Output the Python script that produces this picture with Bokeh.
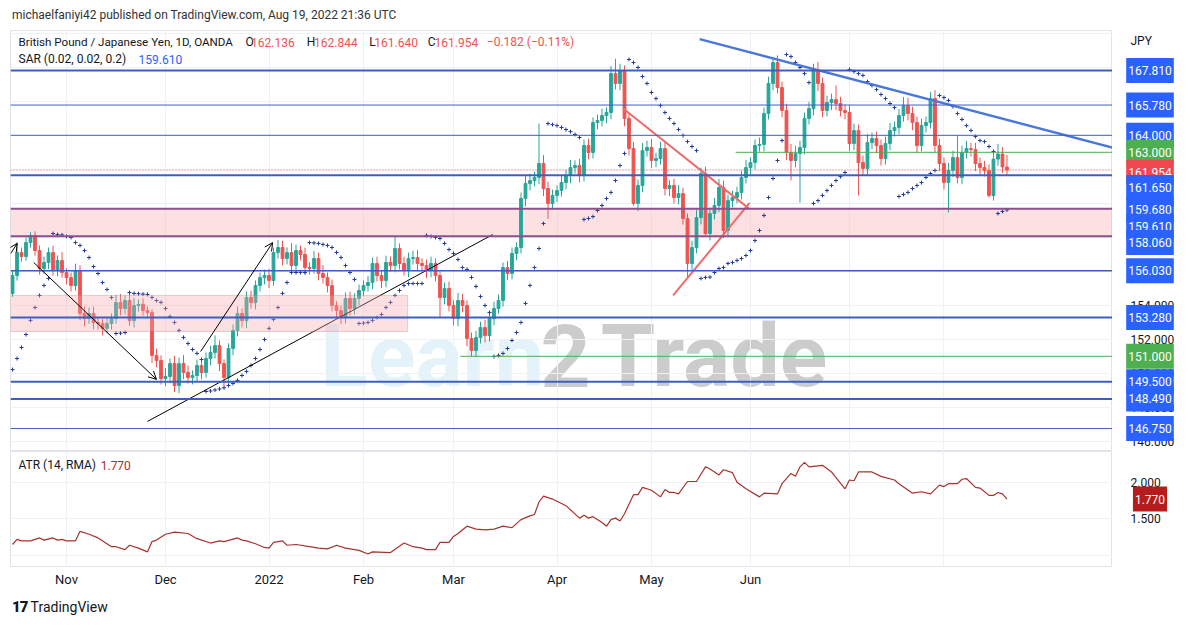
from bokeh.plotting import figure
from bokeh.models import (Range1d, FixedTicker, Label, ColumnDataSource, Span,
                          BoxAnnotation, Div, Arrow, OpenHead)
from bokeh.layouts import column, row
from bokeh.embed import file_html
from bokeh.resources import INLINE
from bokeh.core.properties import value

# ---------------- data (GBP/JPY daily, OANDA; bar 0 = 14 Oct 2021, bar 221 = 19 Aug 2022) ----
opens = [
    154.69, 155.75, 157.10, 156.87, 157.69, 158.10, 157.22, 156.16, 156.52, 157.10,
    156.05, 156.63, 155.93, 155.63, 155.16, 156.05, 153.52, 153.22, 153.52, 152.99,
    152.93, 152.64, 152.93, 153.22, 154.16, 153.81, 154.28, 153.10, 153.99, 154.05,
    153.69, 153.57, 151.05, 150.75, 149.69, 149.81, 150.57, 149.28, 150.57, 150.05,
    149.75, 149.87, 150.46, 150.05, 150.87, 151.22, 151.63, 150.57, 149.75, 151.46,
    152.52, 153.52, 153.10, 154.46, 154.16, 155.16, 155.63, 155.75, 155.46, 157.10,
    157.40, 156.75, 157.10, 156.34, 157.22, 156.99, 156.22, 156.16, 156.75, 155.87,
    155.63, 155.16, 153.99, 153.69, 153.28, 154.40, 153.81, 154.40, 154.87, 155.16,
    155.34, 156.46, 155.75, 155.46, 156.52, 156.34, 157.34, 156.46, 156.05, 156.75,
    156.81, 156.46, 156.34, 156.05, 156.46, 155.75, 154.46, 154.99, 153.99, 153.22,
    154.28, 153.99, 152.05, 151.34, 152.10, 152.69, 152.22, 153.22, 153.81, 154.28,
    156.22, 155.87, 157.05, 157.40, 160.28, 161.16, 161.34, 161.52, 162.34, 160.87,
    159.99, 160.46, 160.75, 161.22, 161.63, 162.10, 162.22, 161.63, 163.40, 162.99,
    164.75, 164.87, 165.16, 165.34, 167.63, 167.05, 167.81, 164.99, 163.22, 159.99,
    161.05, 163.10, 163.28, 162.52, 162.63, 163.22, 160.87, 161.05, 160.34, 160.57,
    159.10, 156.46, 157.40, 159.16, 161.75, 158.22, 159.40, 159.87, 160.93, 158.40,
    160.16, 160.34, 160.63, 161.52, 162.10, 162.40, 163.40, 163.46, 165.28, 167.05,
    168.28, 166.81, 165.46, 162.99, 162.52, 162.93, 163.28, 164.99, 165.57, 167.81,
    167.05, 165.46, 165.93, 166.10, 165.87, 165.46, 165.34, 163.52, 164.28, 162.40,
    162.05, 163.57, 163.81, 163.40, 162.63, 163.52, 164.28, 164.46, 165.16, 165.75,
    165.28, 164.75, 163.40, 164.57, 164.75, 166.16, 163.40, 162.34, 161.22, 161.93,
    162.69, 161.52, 162.99, 163.22, 163.16, 162.34, 162.10, 161.93, 160.46, 162.60,
    162.90, 162.136,
]
closes = [
    155.75, 157.10, 156.87, 157.69, 158.10, 157.22, 156.16, 156.52, 157.10, 156.05,
    156.63, 155.93, 155.63, 155.16, 156.05, 153.52, 153.22, 153.52, 152.99, 152.93,
    152.64, 152.93, 153.22, 154.16, 153.81, 154.28, 153.10, 153.99, 154.05, 153.69,
    153.57, 151.05, 150.75, 149.69, 149.81, 150.57, 149.28, 150.57, 150.05, 149.75,
    149.87, 150.46, 150.05, 150.87, 151.22, 151.63, 150.57, 149.75, 151.46, 152.52,
    153.52, 153.10, 154.46, 154.16, 155.16, 155.63, 155.75, 155.46, 157.10, 157.40,
    156.75, 157.10, 156.34, 157.22, 156.99, 156.22, 156.16, 156.75, 155.87, 155.63,
    155.16, 153.99, 153.69, 153.28, 154.40, 153.81, 154.40, 154.87, 155.16, 155.34,
    156.46, 155.75, 155.46, 156.52, 156.34, 157.34, 156.46, 156.05, 156.75, 156.81,
    156.46, 156.34, 156.05, 156.46, 155.75, 154.46, 154.99, 153.99, 153.22, 154.28,
    153.99, 152.05, 151.34, 152.10, 152.69, 152.22, 153.22, 153.81, 154.28, 156.22,
    155.87, 157.05, 157.40, 160.28, 161.16, 161.34, 161.52, 162.34, 160.87, 159.99,
    160.46, 160.75, 161.22, 161.63, 162.10, 162.22, 161.63, 163.40, 162.99, 164.75,
    164.87, 165.16, 165.34, 167.63, 167.05, 167.81, 164.99, 163.22, 159.99, 161.05,
    163.10, 163.28, 162.52, 162.63, 163.22, 160.87, 161.05, 160.34, 160.57, 159.10,
    156.46, 157.40, 159.16, 161.75, 158.22, 159.40, 159.87, 160.93, 158.40, 160.16,
    160.34, 160.63, 161.52, 162.10, 162.40, 163.40, 163.46, 165.28, 167.05, 168.28,
    166.81, 165.46, 162.99, 162.52, 162.93, 163.28, 164.99, 165.57, 167.81, 167.05,
    165.46, 165.93, 166.10, 165.87, 165.46, 165.34, 163.52, 164.28, 162.40, 162.05,
    163.57, 163.81, 163.40, 162.63, 163.52, 164.28, 164.46, 165.16, 165.75, 165.28,
    164.75, 163.40, 164.57, 164.75, 166.16, 163.40, 162.34, 161.22, 161.93, 162.69,
    161.52, 162.99, 163.22, 163.16, 162.34, 162.10, 161.93, 160.46, 162.60, 162.90,
    162.136, 161.954,
]
upper_wick = [
    0.30, 0.60, 0.30, 0.30, 0.20, 0.25, 0.30, 0.35, 0.30, 0.40,
    0.30, 0.50, 0.25, 0.30, 0.40, 0.30, 0.40, 0.35, 0.40, 0.30,
    0.30, 0.35, 0.30, 0.45, 0.50, 0.30, 0.40, 0.45, 0.30, 0.35,
    0.25, 0.20, 0.40, 0.30, 0.50, 0.30, 0.45, 0.35, 0.50, 0.40,
    0.30, 0.35, 0.30, 0.35, 0.40, 0.60, 0.30, 0.25, 0.30, 0.35,
    0.40, 0.30, 0.35, 0.40, 0.30, 0.30, 0.35, 0.40, 0.30, 0.45,
    0.40, 0.30, 0.55, 0.35, 0.30, 0.40, 0.30, 0.45, 0.35, 0.50,
    0.30, 0.35, 0.25, 0.30, 0.35, 0.40, 0.30, 0.35, 0.30, 0.40,
    0.35, 0.40, 0.30, 0.40, 0.35, 0.70, 0.30, 0.40, 0.35, 0.40,
    0.45, 0.30, 0.35, 0.40, 0.30, 0.25, 0.35, 0.40, 0.30, 0.45,
    0.40, 0.30, 0.35, 0.40, 0.35, 0.45, 0.30, 0.40, 0.35, 0.30,
    0.40, 0.35, 0.30, 0.35, 0.45, 0.40, 0.35, 2.35, 0.50, 0.40,
    0.35, 0.30, 0.40, 0.35, 0.45, 0.30, 0.40, 0.35, 0.40, 0.30,
    0.35, 0.40, 0.30, 0.45, 0.87, 0.40, 0.30, 0.35, 0.40, 0.35,
    0.45, 0.40, 0.50, 0.35, 0.40, 0.45, 0.30, 0.40, 0.50, 0.35,
    0.30, 0.40, 0.45, 0.35, 0.40, 0.35, 0.45, 0.50, 0.40, 0.35,
    0.40, 0.35, 0.40, 0.45, 0.30, 0.35, 0.40, 0.35, 0.40, 0.30,
    0.42, 0.35, 0.40, 0.50, 0.45, 0.40, 0.35, 0.40, 0.40, 0.50,
    0.35, 0.40, 0.35, 0.83, 0.40, 0.35, 0.45, 0.40, 0.35, 0.40,
    0.50, 0.35, 0.40, 0.35, 0.40, 0.45, 0.35, 0.40, 0.50, 0.45,
    0.40, 0.35, 0.40, 0.35, 0.40, 0.50, 0.40, 0.35, 0.45, 0.40,
    1.30, 0.40, 0.45, 0.35, 0.40, 0.35, 0.40, 0.35, 0.40, 0.60,
    0.40, 0.708,
]
lower_wick = [
    0.20, 0.30, 0.30, 0.25, 0.30, 0.30, 0.35, 0.30, 0.40, 0.30,
    0.35, 0.30, 0.40, 0.35, 0.30, 0.40, 0.45, 0.30, 0.40, 0.35,
    0.40, 0.30, 0.35, 0.30, 0.40, 0.35, 0.30, 0.40, 0.35, 0.30,
    0.35, 0.45, 0.40, 0.35, 0.45, 0.40, 0.38, 0.45, 0.40, 0.35,
    0.40, 0.35, 0.40, 0.30, 0.40, 0.35, 0.45, 0.50, 0.35, 0.40,
    0.35, 0.40, 0.45, 0.35, 0.40, 0.35, 0.40, 0.45, 0.30, 0.35,
    0.40, 0.35, 0.40, 0.45, 0.35, 0.40, 0.35, 0.30, 0.40, 0.35,
    0.40, 0.35, 0.45, 0.40, 0.35, 0.40, 0.35, 0.40, 0.30, 0.35,
    0.40, 0.35, 0.45, 0.40, 0.35, 0.40, 0.35, 0.30, 0.40, 0.35,
    0.40, 0.35, 0.45, 0.40, 0.35, 1.18, 0.40, 0.35, 0.40, 0.45,
    0.40, 0.45, 0.34, 0.40, 0.35, 0.40, 0.35, 0.40, 0.30, 0.35,
    0.40, 0.35, 0.40, 0.35, 0.45, 0.40, 0.35, 0.40, 0.45, 0.90,
    0.35, 0.40, 0.35, 0.40, 0.45, 0.35, 0.40, 0.35, 0.40, 0.35,
    0.40, 0.35, 0.45, 0.40, 0.35, 0.40, 0.45, 0.40, 0.12, 0.45,
    0.40, 0.35, 0.45, 0.40, 0.35, 0.40, 0.45, 0.35, 0.40, 0.35,
    0.86, 0.40, 0.35, 0.40, 0.10, 0.40, 0.35, 0.40, 0.45, 0.35,
    0.40, 0.35, 0.40, 0.35, 0.45, 0.40, 0.35, 0.40, 0.35, 0.40,
    0.35, 0.40, 0.45, 1.18, 0.40, 2.90, 0.40, 0.35, 0.40, 0.45,
    0.40, 0.35, 0.45, 0.40, 0.35, 0.40, 0.45, 0.40, 1.94, 0.40,
    0.35, 0.40, 0.45, 0.40, 0.35, 0.40, 0.35, 0.40, 0.35, 0.40,
    0.45, 0.40, 0.35, 0.40, 0.35, 0.40, 0.45, 0.40, 1.76, 0.40,
    0.35, 0.40, 0.35, 0.40, 0.45, 0.40, 0.35, 0.12, 0.30, 0.40,
    0.35, 0.314,
]
sar = [
    150.22, 150.87, 151.52, 152.28, 153.11, 153.87, 154.58, 155.17, 155.58, 158.22,
    158.16, 158.14, 158.05, 157.99, 157.69, 157.52, 157.22, 156.81, 156.28, 155.87,
    155.34, 154.93, 154.46, 152.34, 152.36, 152.40, 154.75, 154.70, 154.68, 154.66,
    154.64, 154.46, 154.28, 154.17, 153.81, 153.34, 152.99, 152.52, 152.11, 151.75,
    151.40, 151.17, 150.81, 148.93, 148.96, 149.02, 149.08, 149.15, 149.28, 149.40,
    149.58, 149.87, 150.11, 150.46, 150.87, 151.40, 151.99, 152.64, 153.17, 153.87,
    154.70, 155.34, 155.93, 155.93, 155.93, 155.93, 157.69, 157.67, 157.64, 157.58,
    157.52, 157.40, 157.11, 156.81, 156.34, 155.93, 155.52, 152.93, 152.95, 152.99,
    153.11, 153.28, 153.46, 153.87, 154.17, 154.58, 154.87, 155.17, 155.28, 155.28,
    155.28, 155.28, 158.11, 158.05, 157.99, 157.93, 157.64, 157.28, 157.05, 156.69,
    156.22, 156.11, 155.64, 155.11, 154.52, 153.99, 153.58, 150.99, 151.05, 151.17,
    151.46, 151.93, 152.40, 152.99, 154.11, 155.17, 156.22, 157.34, 158.81, 164.69,
    164.63, 164.57, 164.46, 164.34, 164.22, 164.05, 163.87, 159.05, 159.11, 159.22,
    159.58, 159.87, 160.28, 160.64, 161.34, 162.22, 162.93, 168.46, 168.28, 167.99,
    167.46, 167.05, 166.52, 166.16, 165.75, 165.34, 164.99, 164.69, 164.34, 163.99,
    163.63, 163.34, 163.10, 155.58, 155.64, 155.66, 155.93, 156.16, 156.22, 156.46,
    156.52, 156.64, 156.75, 156.93, 157.22, 157.81, 158.40, 159.28, 160.34, 161.46,
    162.52, 163.69, 168.75, 168.63, 168.28, 167.99, 167.63, 167.10, 159.99, 160.16,
    160.46, 160.75, 161.05, 161.34, 161.57, 161.81, 167.87, 167.75, 167.63, 167.52,
    167.16, 166.93, 166.69, 166.40, 166.16, 165.87, 165.63, 160.40, 160.52, 160.64,
    160.87, 161.05, 161.22, 161.52, 161.75, 161.93, 166.34, 166.22, 166.05, 165.69,
    165.28, 164.93, 164.57, 164.28, 163.93, 163.69, 163.63, 163.34, 163.05, 159.40,
    159.52, 159.61,
]
atr_bar = [0, 1, 2, 4, 6, 7, 9, 10, 11, 12, 14, 15, 17, 19, 22, 23, 25, 26, 28, 30,
           31, 32, 34, 36, 39, 41, 44, 46, 47, 50, 51, 52, 54, 56, 57, 58, 60, 61, 63, 66,
           68, 70, 72, 74, 77, 79, 80, 84, 87, 89, 91, 92, 94, 95, 97, 98, 99, 101, 103, 105,
           107, 109, 111, 113, 115, 116, 117, 118, 120, 123, 126, 127, 128, 129, 131, 132, 133, 134, 135, 136,
           138, 139, 140, 142, 144, 145, 146, 147, 148, 150, 152, 154, 155, 157, 158, 160, 161, 163, 166, 167,
           170, 171, 173, 174, 175, 176, 177, 180, 182, 185, 186, 187, 188, 191, 193, 196, 197, 200, 202, 204,
           206, 207, 208, 210, 211, 212, 214, 215, 217, 218, 219, 220, 221]
atr_val = [1.15, 1.22, 1.20, 1.20, 1.24, 1.21, 1.24, 1.21, 1.22, 1.20, 1.20, 1.33, 1.29, 1.24, 1.12, 1.12, 1.08, 1.14, 1.10, 1.05,
           1.19, 1.21, 1.29, 1.32, 1.30, 1.23, 1.17, 1.20, 1.19, 1.24, 1.21, 1.20, 1.16, 1.11, 1.10, 1.18, 1.20, 1.14, 1.15, 1.12,
           1.10, 1.09, 1.14, 1.10, 1.07, 1.02, 1.05, 1.04, 1.17, 1.12, 1.10, 1.08, 1.08, 1.18, 1.18, 1.26, 1.30, 1.40, 1.36, 1.35,
           1.36, 1.40, 1.38, 1.49, 1.54, 1.56, 1.73, 1.81, 1.77, 1.68, 1.51, 1.55, 1.51, 1.53, 1.45, 1.40, 1.49, 1.51, 1.47, 1.57,
           1.83, 1.83, 1.93, 1.89, 1.80, 1.90, 1.86, 1.86, 1.84, 2.01, 2.01, 2.21, 2.18, 2.10, 2.17, 2.13, 2.00, 1.91, 1.80, 1.85,
           1.84, 1.98, 2.12, 2.08, 2.21, 2.27, 2.21, 2.23, 2.14, 1.91, 2.03, 2.02, 2.14, 2.14, 2.08, 2.03, 1.98, 1.85, 1.87, 1.84,
           1.96, 1.94, 1.98, 1.98, 2.04, 2.05, 1.93, 1.92, 1.82, 1.82, 1.86, 1.84, 1.77]

month_bar = [12, 34, 57, 78, 98, 121, 142, 164, 186, 207]
month_names = ["Nov", "Dec", "2022", "Feb", "Mar", "Apr", "May", "Jun", "", ""]
price_ticks = [146, 148, 150, 152, 154, 160]
atr_ticks = [1.5, 2.0]

blue_levels = [167.81, 165.78, 164.00, 161.65, 156.03, 153.28, 149.50, 148.49, 146.75]
green_levels = [163.00, 151.00]
green_level_start = [160.7, 99.5]
zone_top, zone_bottom = 159.68, 158.06
box_top, box_bottom, box_end = 154.58, 152.46, 87.8
last_price, last_sar, last_atr = 161.954, 159.610, 1.770

arrow_x0 = [-0.4, 4.7, 41.8]
arrow_y0 = [157.05, 156.52, 151.28]
arrow_x1 = [1.05, 32.0, 57.8]
arrow_y1 = [157.64, 149.64, 157.69]
black_line = ([30.0, 106.7], [147.17, 158.16])
red_lines = [([135.7, 163.6], [165.58, 159.70]), ([146.8, 163.8], [154.58, 160.02])]
blue_line = ([152.7, 246.2], [169.66, 163.15])

# ---------------- styling ----------------
FONT = "Roboto"
UP, DOWN = "#26a69a", "#ef5350"
LEVEL_BLUE = "#3c5fc4"
TAG_BLUE, TAG_GREEN, TAG_RED = "#2962ff", "#4caf50", "#f0474f"
GRID = "#eef1f6"
TEXT = "#131722"

highs = [max(o, c) + u for o, c, u in zip(opens, closes, upper_wick)]
lows = [min(o, c) - d for o, c, d in zip(opens, closes, lower_wick)]
bars = list(range(len(closes)))
src = ColumnDataSource(dict(
    x=bars, high=highs, low=lows,
    top=[max(o, c) for o, c in zip(opens, closes)],
    bottom=[min(o, c) for o, c in zip(opens, closes)],
    color=[UP if c >= o else DOWN for o, c in zip(opens, closes)],
))

p = figure(frame_width=1102, frame_height=421, x_range=Range1d(-0.45, 244.45),
           y_range=Range1d(145.40, 170.165), output_backend="svg", toolbar_location=None,
           min_border_left=10, min_border_right=0, min_border_top=0, min_border_bottom=0,
           x_axis_location=None, y_axis_location=None, outline_line_color="#e0e3eb")
p.ygrid.ticker = FixedTicker(ticks=list(range(146, 171, 2)))
p.xgrid.ticker = FixedTicker(ticks=month_bar)
p.grid.grid_line_color = GRID

# watermark
wm = p.text(x=[68.4, 117.3, 130.7], y=[151.05, 151.05, 151.05], text=["Learn", "2", "Trade"],
            text_font=value(FONT), text_font_size="88px", text_font_style="bold",
            text_color=["#4aa8e0", "#555555", "#555555"], text_alpha=[0.15, 0.3, 0.3],
            text_baseline="alphabetic")
wm.level = "underlay"

# zones
p.add_layout(BoxAnnotation(bottom=zone_bottom, top=zone_top, fill_color="#f7a5ad",
                           fill_alpha=0.35, line_color=None, level="underlay"))
p.add_layout(BoxAnnotation(bottom=box_bottom, top=box_top, right=box_end, fill_color="#f7a5ad",
                           fill_alpha=0.35, line_color="#e06060", line_width=1))

# candles
p.segment(x0="x", y0="low", x1="x", y1="high", color="color", line_width=1, source=src)
p.vbar(x="x", width=0.62, top="top", bottom="bottom", fill_color="color", line_color="color",
       source=src)

# Parabolic SAR
p.scatter(bars, sar, marker="cross", size=4, line_color="#22399a", line_width=1)

# horizontal levels
widths = {167.81: 2, 161.65: 2, 153.28: 2, 149.50: 2, 148.49: 2, 156.03: 1.5}
for lv in blue_levels:
    p.add_layout(Span(location=lv, dimension="width", line_color=LEVEL_BLUE,
                      line_width=widths.get(lv, 1)))
for lv in (zone_top, zone_bottom):
    p.add_layout(Span(location=lv, dimension="width", line_color="#8e4f8c", line_width=2))
p.ray(x=green_level_start, y=green_levels, length=0, angle=0, line_color="#4caf50", line_width=1)
p.add_layout(Span(location=last_price, dimension="width", line_color="#ef5350",
                  line_width=1, line_dash="1 2"))

# trend lines
p.line(black_line[0], black_line[1], line_color="black", line_width=1)
for xs, ys in red_lines:
    p.line(xs, ys, line_color="#ef6b6b", line_width=2)
p.line(blue_line[0], blue_line[1], line_color="#4a78d8", line_width=2.5)
for x0, y0, x1, y1 in zip(arrow_x0, arrow_y0, arrow_x1, arrow_y1):
    p.add_layout(Arrow(end=OpenHead(size=8, line_color="black", line_width=1),
                       x_start=x0, y_start=y0, x_end=x1, y_end=y1,
                       line_color="black", line_width=1))


def txt(fig, x, y, text, color=TEXT, size="12px"):
    fig.add_layout(Label(x=x, y=y, text=text, text_color=color, text_font=FONT,
                         text_font_size=size, text_baseline="middle", text_align="left"))


# legend texts
L1, L2 = 169.46, 168.46
txt(p, 1.33, L1, "British Pound / Japanese Yen, 1D, OANDA", size="11.6px")
for lx, letter, vx, val in [(51.8, "O", 53.0, "162.136"), (65.4, "H", 67.0, "162.844"),
                            (79.3, "L", 80.4, "161.640"), (92.3, "C", 93.8, "161.954")]:
    txt(p, lx, L1, letter)
    txt(p, vx, L1, val, color="#ef5350")
txt(p, 105.4, L1, "\u22120.182 (\u22120.11%)", color="#ef5350")
txt(p, 1.33, L2, "SAR (0.02, 0.02, 0.2)")
txt(p, 28.0, L2, f"{last_sar:.3f}", color="#2962ff")


# ---------------- price scales (right-hand columns sharing the y scales) ----------------
def scale_fig(yr, fh, bottom):
    s = figure(frame_width=72, frame_height=fh, x_range=Range1d(0, 72), y_range=yr,
               output_backend="svg", toolbar_location=None, min_border_left=0,
               min_border_right=0, min_border_top=0, min_border_bottom=bottom,
               x_axis_location=None, y_axis_location=None, outline_line_color=None)
    s.grid.visible = False
    return s


def tick_labels(s, ticks):
    s.text(x=[18] * len(ticks), y=ticks, text=[f"{t:.3f}" for t in ticks],
           text_font=value(FONT), text_font_size="12px", text_color=TEXT,
           text_baseline="middle", text_align="left")


def tag(s, y, text, bg):
    s.add_layout(Label(x=37.5, y=y, text=text, text_align="center", text_baseline="middle",
                       text_font=FONT, text_font_size="12px", text_color="white",
                       background_fill_color=bg, background_fill_alpha=1.0, padding=(2, 8)))


ps = scale_fig(p.y_range, 421, 0)
tick_labels(ps, price_ticks)
txt(ps, 18, 169.52, "JPY")
tag_shift = {161.954: -0.124, 161.65: -0.72, 159.68: -0.04, 159.61: -0.96, 158.06: -0.37}
tags = [(167.81, TAG_BLUE), (165.78, TAG_BLUE), (164.00, TAG_BLUE), (163.00, TAG_GREEN),
        (last_price, TAG_RED), (161.65, TAG_BLUE), (zone_top, TAG_BLUE), (last_sar, TAG_BLUE),
        (zone_bottom, TAG_BLUE), (156.03, TAG_BLUE), (153.28, TAG_BLUE), (151.00, TAG_GREEN),
        (149.50, TAG_BLUE), (148.49, TAG_BLUE), (146.75, TAG_BLUE)]
for v, col in tags:
    tag(ps, v + tag_shift.get(v, 0.0), f"{v:.3f}", col)

# ---------------- ATR pane ----------------
pa = figure(frame_width=1102, frame_height=115, x_range=p.x_range, y_range=Range1d(0.85, 2.419),
            output_backend="svg", toolbar_location=None, min_border_left=10, min_border_right=0,
            min_border_top=0, min_border_bottom=0, y_axis_location=None,
            outline_line_color="#e0e3eb")
pa.line(atr_bar, atr_val, line_color="#a8322d", line_width=1.2)
pa.xaxis.ticker = FixedTicker(ticks=month_bar)
pa.xaxis.major_label_overrides = {b: n for b, n in zip(month_bar, month_names)}
pa.xaxis.major_label_text_font = FONT
pa.xaxis.major_label_text_font_size = "13px"
pa.xaxis.major_label_text_color = TEXT
pa.xaxis.axis_line_color = None
pa.xaxis.major_tick_line_color = None
pa.xaxis.minor_tick_line_color = None
pa.xaxis.major_tick_out = 0
pa.xaxis.major_label_standoff = 5
pa.ygrid.ticker = FixedTicker(ticks=[1.0, 1.5, 2.0])
pa.xgrid.ticker = FixedTicker(ticks=month_bar)
pa.grid.grid_line_color = GRID
txt(pa, 1.33, 2.228, "ATR (14, RMA)")
txt(pa, 19.6, 2.228, f"{last_atr:.3f}", color="#b22833")

pas = scale_fig(pa.y_range, 115, 21)
tick_labels(pas, atr_ticks)
tag(pas, last_atr, f"{last_atr:.3f}", "#b71c1c")

header = Div(text='<div style="font-family:Roboto,sans-serif;font-size:12px;color:#333;'
                  'padding-left:12px;line-height:30px;">michaelfaniyi42 published on '
                  'TradingView.com, Aug 19, 2022 21:36 UTC</div>',
             width=1184, height=30, margin=(0, 0, 0, 0))
footer = Div(text='<div style="font-family:Roboto,sans-serif;font-size:14px;color:#131722;'
                  'padding:8px 0 0 12px;"><span style="font-weight:900;font-size:15px;'
                  'letter-spacing:-1px;">17</span> TradingView</div>',
             width=1184, height=34, margin=(0, 0, 0, 0))

layout = column(header, row(p, ps, spacing=0), row(pa, pas, spacing=0), footer, spacing=0)
open("out.html", "w").write(file_html(layout, INLINE))
